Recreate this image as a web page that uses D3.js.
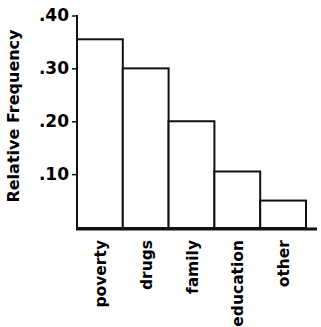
<!DOCTYPE html>
<html><head><meta charset="utf-8">
<script src="https://cdn.jsdelivr.net/npm/d3@7/dist/d3.min.js"></script>
<style>body{margin:0;background:#fff}svg{display:block}</style>
</head><body>
<script>
const categories = ["poverty","drugs","family","education","other"];
const values = [0.355, 0.30, 0.20, 0.105, 0.05];
const tickValues = [0.10, 0.20, 0.30, 0.40];
const tickLabels = [".10", ".20", ".30", ".40"];
const yTitle = "Relative Frequency";

const W = 321, H = 327;
const svg = d3.select("body").append("svg").attr("width", W).attr("height", H);
const font = "'DejaVu Sans', sans-serif";

const x = d3.scaleBand().domain(categories).range([77, 306]).padding(0);
const y = d3.scaleLinear().domain([0, 0.4]).range([227, 15.5]);

// bars
svg.append("g").selectAll("rect").data(categories).join("rect")
  .attr("x", d => x(d))
  .attr("y", (d,i) => y(values[i]))
  .attr("width", x.bandwidth())
  .attr("height", (d,i) => y(0) + 1 - y(values[i]))
  .attr("fill", "#fff").attr("stroke", "#111").attr("stroke-width", 2);

// y axis
const yAxis = d3.axisLeft(y).tickValues(tickValues)
  .tickFormat((d,i) => tickLabels[i]).tickSize(5).tickSizeOuter(0).tickPadding(3);
const gy = svg.append("g").attr("transform", "translate(77,0)").call(yAxis);
gy.select(".domain").attr("stroke", "#111").attr("stroke-width", 2).attr("d", "M0,15V229");
gy.selectAll(".tick line").attr("stroke", "#111").attr("stroke-width", 1.5);
gy.selectAll(".tick text").attr("font-family", font).attr("font-weight", "bold")
  .attr("font-size", 17).attr("fill", "#000");

// baseline
svg.append("line").attr("x1", 76).attr("x2", 317).attr("y1", 229).attr("y2", 229)
  .attr("stroke", "#111").attr("stroke-width", 3);

// x labels
svg.append("g").selectAll("text").data(categories).join("text")
  .attr("transform", d => `translate(${x(d) + x.bandwidth()/2 + 6},240) rotate(-90)`)
  .attr("text-anchor", "end")
  .attr("font-family", font).attr("font-weight", "bold").attr("font-size", 15.5)
  .attr("fill", "#000").text(d => d);

// y title
svg.append("text").attr("transform", "translate(19,116) rotate(-90)")
  .attr("text-anchor", "middle").attr("font-family", font).attr("font-weight", "bold")
  .attr("font-size", 16).attr("fill", "#000").text(yTitle);
</script>
</body></html>
